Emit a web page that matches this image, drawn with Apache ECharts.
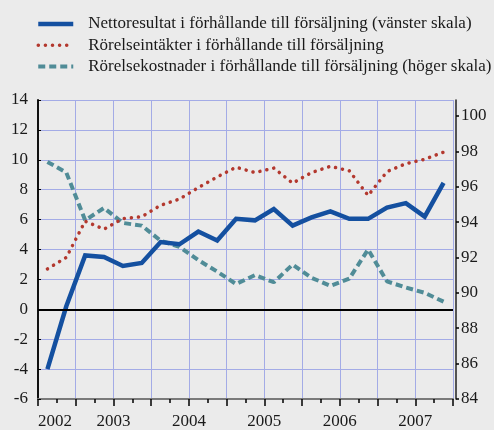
<!DOCTYPE html>
<html>
<head>
<meta charset="utf-8">
<script src="https://cdn.jsdelivr.net/npm/echarts@6/dist/echarts.min.js"></script>
<style>
  html, body { margin: 0; padding: 0; background: #ebebeb; }
  #chart { width: 494px; height: 430px; }
</style>
</head>
<body>
<div id="chart"></div>
<script>
// quarters 2002 K1 .. 2007 K2
var quarters = ['2002 K1', '2002 K2', '2002 K3', '2002 K4', '2003 K1', '2003 K2', '2003 K3', '2003 K4',
    '2004 K1', '2004 K2', '2004 K3', '2004 K4', '2005 K1', '2005 K2', '2005 K3', '2005 K4',
    '2006 K1', '2006 K2', '2006 K3', '2006 K4', '2007 K1', '2007 K2'];
var years = ['2002', '2003', '2004', '2005', '2006', '2007'];

var series_names = [
    'Nettoresultat i förhållande till försäljning (vänster skala)',
    'Rörelseintäkter i förhållande till försäljning',
    'Rörelsekostnader i förhållande till försäljning (höger skala)'
];

// left scale
var netto = [-4.0, 0.2, 3.6, 3.5, 2.9, 3.1, 4.5, 4.35, 5.2, 4.6, 6.05, 5.95,
    6.7, 5.6, 6.15, 6.55, 6.05, 6.05, 6.8, 7.1, 6.2, 8.45];
// right scale
var intakter = [91.35, 92.0, 94.05, 93.6, 94.2, 94.3, 94.95, 95.3, 95.95, 96.55, 97.1, 96.8,
    97.05, 96.2, 96.8, 97.15, 96.9, 95.5, 96.85, 97.3, 97.55, 97.95];
var kostnader = [97.4, 96.8, 94.1, 94.8, 93.95, 93.8, 92.95, 92.6, 91.85, 91.2, 90.5, 91.0,
    90.6, 91.6, 90.85, 90.4, 90.8, 92.45, 90.65, 90.3, 90.0, 89.5];

var font = 'Liberation Serif';
var grid_color = '#a3abe6';
var colors = ['#1450a0', '#b3382e', '#508c97'];
var line_styles = [
    {width: 4.5, join: 'miter'},
    {width: 3.5, type: [0.1, 7], cap: 'round'},
    {width: 4, type: [7, 4]}
];

var chart = echarts.init(document.getElementById('chart'));

chart.setOption({
    backgroundColor: '#ebebeb',
    animation: false,
    textStyle: {fontFamily: font},
    legend: {
	orient: 'vertical',
	left: 36,
	top: 15.5,
	padding: 0,
	itemWidth: 35,
	itemHeight: 14,
	itemGap: 4.3,
	data: series_names.map((n, i) => ({
	    name: n,
	    lineStyle: Object.assign({color: colors[i]}, line_styles[i])
	})),
	itemStyle: {opacity: 0},
	textStyle: {fontFamily: font, fontSize: 17, color: '#1a1a1a', lineHeight: 17, padding: [0, 0, 0, 10]}
    },
    grid: {left: 38, right: 41, top: 100, bottom: 27},
    xAxis: [{
	type: 'category',
	data: quarters,
	boundaryGap: true,
	show: false
    }, {
	type: 'value',
	min: 0,
	max: quarters.length,
	interval: 2,
	position: 'bottom',
	axisLine: {show: true, onZero: false, lineStyle: {color: '#7a7a7a', width: 2}},
	axisTick: {show: true, length: 7, lineStyle: {color: '#000', width: 1.5}},
	minorTick: {show: true, splitNumber: 2, length: 4, lineStyle: {color: '#000', width: 1.5}},
	splitLine: {show: true, lineStyle: {color: grid_color, width: 1}},
	axisLabel: {
	    fontFamily: font, fontSize: 17, color: '#1a1a1a', margin: 14,
	    alignMinLabel: 'left',
	    formatter: function (v) {
		return (v % 4 === 0 && years[v / 4]) ? years[v / 4] : '';
	    }
	}
    }],
    yAxis: [{
	type: 'value',
	min: -6,
	max: 14,
	interval: 2,
	axisLine: {show: true, lineStyle: {color: '#111', width: 2}},
	axisTick: {show: true, inside: true, length: 3, lineStyle: {color: '#000'}},
	splitLine: {show: true, lineStyle: {color: grid_color, width: 1}},
	axisLabel: {fontFamily: font, fontSize: 17, color: '#1a1a1a', margin: 10}
    }, {
	type: 'value',
	position: 'right',
	min: 84,
	max: 100.9,
	interval: 2,
	offset: 3,
	axisLine: {show: true, lineStyle: {color: '#222', width: 1.5}},
	axisTick: {show: true, length: 3, lineStyle: {color: '#000', width: 1.5}},
	splitLine: {show: false},
	axisLabel: {fontFamily: font, fontSize: 17, color: '#1a1a1a', margin: 5, showMaxLabel: false}
    }],
    series: [{
	name: series_names[0],
	type: 'line',
	xAxisIndex: 0,
	yAxisIndex: 0,
	data: netto,
	symbol: 'none',
	z: 4,
	color: colors[0],
	lineStyle: line_styles[0],
	markLine: {
	    silent: true,
	    symbol: 'none',
	    label: {show: false},
	    lineStyle: {color: '#000', width: 2, type: 'solid'},
	    data: [{yAxis: 0}]
	}
    }, {
	name: series_names[1],
	type: 'line',
	xAxisIndex: 0,
	yAxisIndex: 1,
	data: intakter,
	symbol: 'none',
	z: 3,
	color: colors[1],
	lineStyle: line_styles[1]
    }, {
	name: series_names[2],
	type: 'line',
	xAxisIndex: 0,
	yAxisIndex: 1,
	data: kostnader,
	symbol: 'none',
	z: 2,
	color: colors[2],
	lineStyle: line_styles[2]
    }]
});
</script>
</body>
</html>
